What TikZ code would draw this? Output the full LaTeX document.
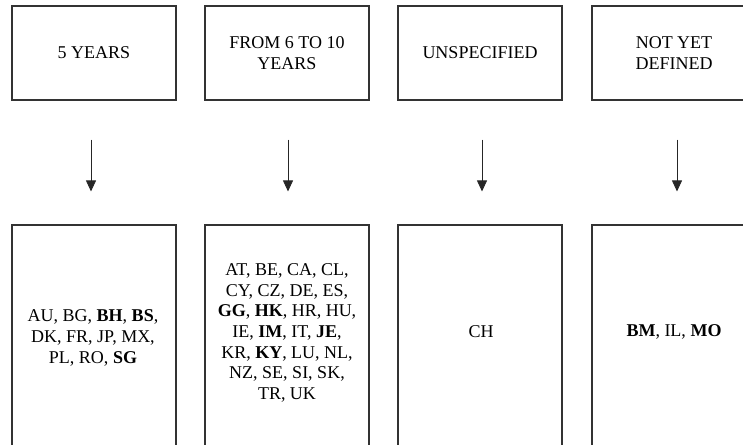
\documentclass[tikz,border=0pt]{standalone}
\usepackage{fontspec}
\setmainfont{Liberation Serif}
\usetikzlibrary{arrows.meta}

\tikzset{
  catbox/.style={draw=black!80, line width=1.1pt, minimum width=164pt, minimum height=94pt,
                 inner sep=0pt, align=center, font=\fontsize{18}{20.6}\selectfont},
  listbox/.style={draw=black!80, line width=1.1pt, minimum width=164pt, minimum height=240pt,
                  inner sep=0pt},
  listtext/.style={align=center, inner sep=0pt, font=\fontsize{18}{20.6}\selectfont},
  flow/.style={draw=black!85, line width=0.8pt, -{Triangle[length=11pt,width=10pt]}}
}

\begin{document}
\begin{tikzpicture}[x=1pt, y=1pt]
  \useasboundingbox (0,0) rectangle (743,-444);
  \clip (0,0) rectangle (743,-444);

  % category boxes (top row)
  \node[catbox] (c1) at (94,-53)  {5 YEARS};
  \node[catbox] (c2) at (287,-53) {FROM 6 TO 10\\YEARS};
  \node[catbox] (c3) at (480,-53) {UNSPECIFIED};
  \node[catbox] (c4) at (674,-53) {NOT YET\\DEFINED};

  % jurisdiction boxes (bottom row)
  \node[listbox] (l1) at (94,-345)  {};
  \node[listbox] (l2) at (287,-345) {};
  \node[listbox] (l3) at (480,-345) {};
  \node[listbox] (l4) at (674,-345) {};

  \node[listtext] (t1) at (93,-338)
    {AU, BG, \textbf{BH}, \textbf{BS},\\DK, FR, JP, MX,\\PL, RO, \textbf{SG}};
  \node[listtext] (t2) at (287,-333)
    {AT, BE, CA, CL,\\CY, CZ, DE, ES,\\\textbf{GG}, \textbf{HK}, HR, HU,\\IE, \textbf{IM}, IT, \textbf{JE},\\KR, \textbf{KY}, LU, NL,\\NZ, SE, SI, SK,\\TR, UK};
  \node[listtext] (t3) at (481,-332) {CH};
  \node[listtext] (t4) at (674,-332) {\textbf{BM}, IL, \textbf{MO}};

  % arrows between the rows
  \draw[flow] ([xshift=-3pt,yshift=-39pt]c1.south) -- ([xshift=-3pt,yshift=33pt]l1.north);
  \draw[flow] ([xshift=1pt,yshift=-39pt]c2.south) -- ([xshift=1pt,yshift=33pt]l2.north);
  \draw[flow] ([xshift=2pt,yshift=-39pt]c3.south) -- ([xshift=2pt,yshift=33pt]l3.north);
  \draw[flow] ([xshift=3pt,yshift=-39pt]c4.south) -- ([xshift=3pt,yshift=33pt]l4.north);
\end{tikzpicture}
\end{document}
